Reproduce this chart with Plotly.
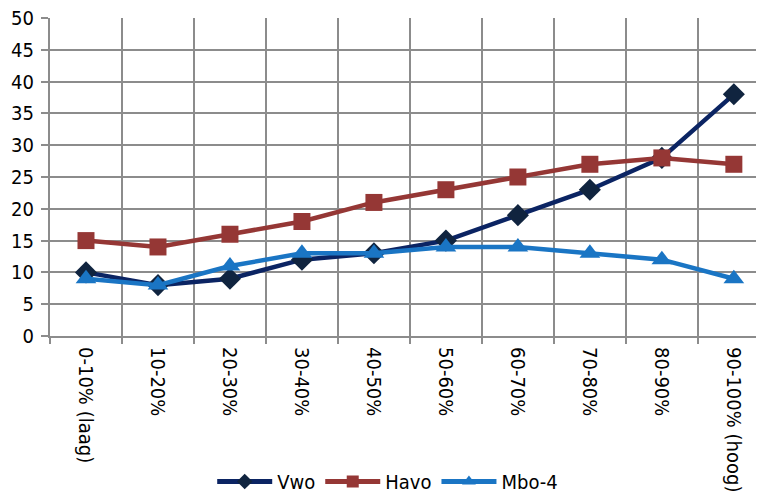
import plotly.graph_objects as go

categories = ["0-10% (laag)", "10-20%", "20-30%", "30-40%", "40-50%", "50-60%",
              "60-70%", "70-80%", "80-90%", "90-100% (hoog)"]
vwo = [10, 8, 9, 12, 13, 15, 19, 23, 28, 38]
havo = [15, 14, 16, 18, 21, 23, 25, 27, 28, 27]
mbo4 = [9, 8, 11, 13, 13, 14, 14, 13, 12, 9]
y_ticks = list(range(0, 55, 5))

FONT = "DejaVu Sans Condensed, DejaVu Sans, sans-serif"

fig = go.Figure()
fig.add_trace(go.Scatter(x=categories, y=vwo, name="Vwo", mode="lines+markers",
                         line=dict(color="#0b2463", width=4.5),
                         marker=dict(symbol="diamond", size=17, color="#10243f")))
fig.add_trace(go.Scatter(x=categories, y=havo, name="Havo", mode="lines+markers",
                         line=dict(color="#953735", width=4.5),
                         marker=dict(symbol="square", size=17, color="#953735")))
fig.add_trace(go.Scatter(x=categories, y=mbo4, name="Mbo-4", mode="lines+markers",
                         line=dict(color="#1a75c4", width=4.5),
                         marker=dict(symbol="triangle-up", size=18, color="#1a75c4")))

fig.update_layout(
    width=764, height=493,
    margin=dict(l=42, r=0, t=10, b=165),
    paper_bgcolor="white", plot_bgcolor="white",
    font=dict(family=FONT, size=20, color="black"),
    showlegend=True,
    legend=dict(orientation="h", xref="container", yref="container",
                x=0.497, y=0.0, xanchor="center", yanchor="bottom",
                font=dict(size=20), itemwidth=55, itemsizing="constant"),
    xaxis=dict(type="category", range=[-0.5, 9.53], tickson="boundaries",
               automargin=False, ticklabeloverflow="allow",
               showgrid=True, gridcolor="#8c8c8c", gridwidth=2,
               ticks="outside", ticklen=6, tickcolor="#8c8c8c", tickwidth=2,
               tickangle=90, tickfont=dict(size=20), ticklabelstandoff=5,
               showline=True, linecolor="#8c8c8c", linewidth=2),
    yaxis=dict(range=[0, 50], tickvals=y_ticks, automargin=False,
               ticklabeloverflow="allow",
               showgrid=True, gridcolor="#8c8c8c", gridwidth=2,
               ticks="outside", ticklen=7, tickcolor="#8c8c8c", tickwidth=2,
               tickfont=dict(size=20), zeroline=False, ticklabelstandoff=3,
               showline=True, linecolor="#8c8c8c", linewidth=2),
)

fig.write_html("out.html")
